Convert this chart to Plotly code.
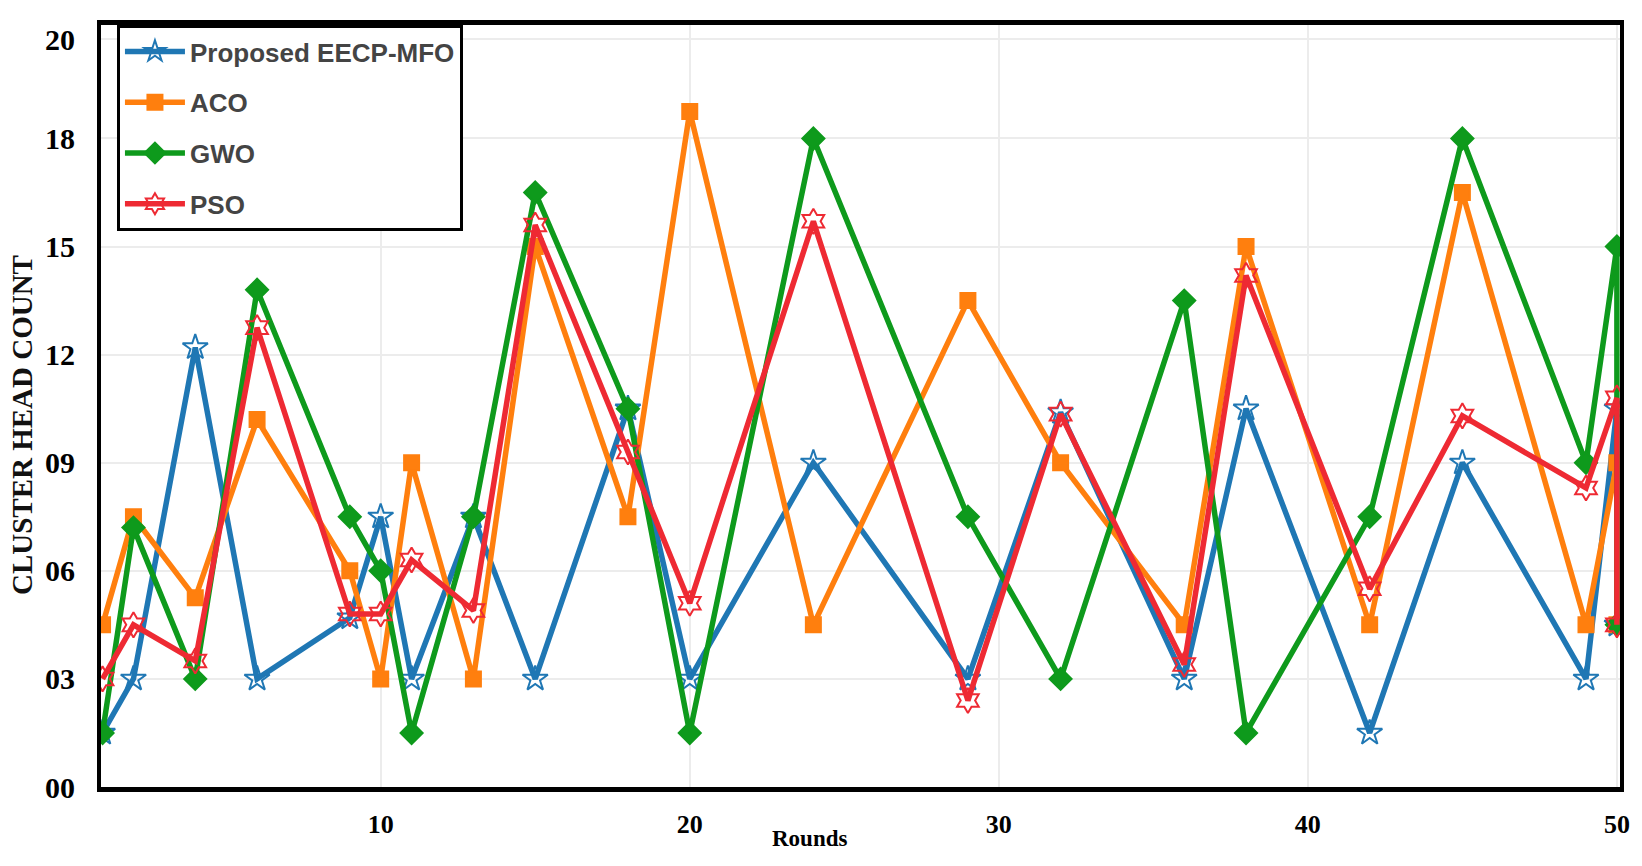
import plotly.graph_objects as go

rounds = [1, 2, 4, 6, 9, 10, 11, 13, 15, 18, 20, 24, 29, 32, 36, 38, 42, 45, 49, 50, 50]
eecp_mfo = [1.5, 3, 12.2, 3, 4.7, 7.5, 3, 7.5, 3, 10.5, 3, 9, 3, 10.4, 3, 10.5, 1.5, 9, 3, 10.5, 4.5]
aco = [4.5, 7.5, 5.25, 10.2, 6, 3, 9, 3, 15, 7.5, 18.75, 4.5, 13.5, 9, 4.5, 15, 4.5, 16.5, 4.5, 9, 4.5]
gwo = [1.5, 7.2, 3, 13.8, 7.5, 6, 1.5, 7.5, 16.5, 10.5, 1.5, 18, 7.5, 3, 13.5, 1.5, 7.5, 18, 9, 15, 4.5]
pso = [3, 4.5, 3.5, 12.75, 4.8, 4.8, 6.3, 4.9, 15.6, 9.3, 5.1, 15.7, 2.4, 10.35, 3.4, 14.2, 5.5, 10.3, 8.3, 10.8, 4.5]

series_names = ["Proposed EECP-MFO", "ACO", "GWO", "PSO"]
y_tickvals = [0, 3, 6, 9, 12, 15, 18, 20.75]
y_ticktext = ["00", "03", "06", "09", "12", "15", "18", "20"]
x_tickvals = [10, 20, 30, 40, 50]

colors = ["#1f77b4", "#ff7f0e", "#0e9a1c", "#ee2a33"]
symbols = ["star-open", "square", "diamond", "hexagram-open"]
sizes = [19, 15, 17, 19]

fig = go.Figure()
for i, (name, vals) in enumerate(zip(series_names, [eecp_mfo, aco, gwo, pso])):
    fig.add_trace(go.Scatter(
        x=rounds, y=vals, name=name, mode="lines+markers",
        legendgroup=name,
        line=dict(color=colors[i], width=5.5),
        marker=dict(symbol=symbols[i], size=sizes[i], color=colors[i],
                    line=dict(color=colors[i], width=2)),
    ))

fig.update_layout(
    width=1642, height=866,
    paper_bgcolor="white", plot_bgcolor="white",
    margin=dict(l=101, r=17, t=25, b=79),
    showlegend=True,
    legend=dict(
        x=0.0105, y=1.0, xanchor="left", yanchor="top",
        bgcolor="white", bordercolor="black", borderwidth=3,
        font=dict(family="Liberation Sans", size=26, color="#444444", weight="bold"),
        tracegroupgap=14, itemwidth=60,
    ),
    annotations=[
        dict(text="Rounds", xref="paper", yref="paper", x=0.4665, y=-0.067,
             xanchor="center", yanchor="middle", showarrow=False,
             font=dict(family="Liberation Serif", size=23, color="black", weight="bold")),
        dict(text="CLUSTER HEAD COUNT", xref="paper", yref="paper", x=-0.052, y=0.475,
             xanchor="center", yanchor="middle", showarrow=False, textangle=-90,
             font=dict(family="Liberation Serif", size=29, color="#111111", weight="bold")),
    ],
)

fig.update_xaxes(
    range=[0.95, 50.1], tickvals=x_tickvals,
    showgrid=True, gridcolor="#ececec", gridwidth=2,
    showline=True, linecolor="black", linewidth=5, mirror=True,
    zeroline=False, ticks="", ticklabelstandoff=10,
    tickfont=dict(family="Liberation Serif", size=26, color="black", weight="bold"),
)
fig.update_yaxes(
    range=[0, 21.15], tickvals=y_tickvals, ticktext=y_ticktext,
    showgrid=True, gridcolor="#ececec", gridwidth=2,
    showline=True, linecolor="black", linewidth=4, mirror=True,
    zeroline=False, ticks="", ticklabelstandoff=16,
    tickfont=dict(family="Liberation Serif", size=30, color="black", weight="bold"),
)

fig.write_html("out.html", config={"displayModeBar": False},
               post_script="document.body.style.margin='0';")
